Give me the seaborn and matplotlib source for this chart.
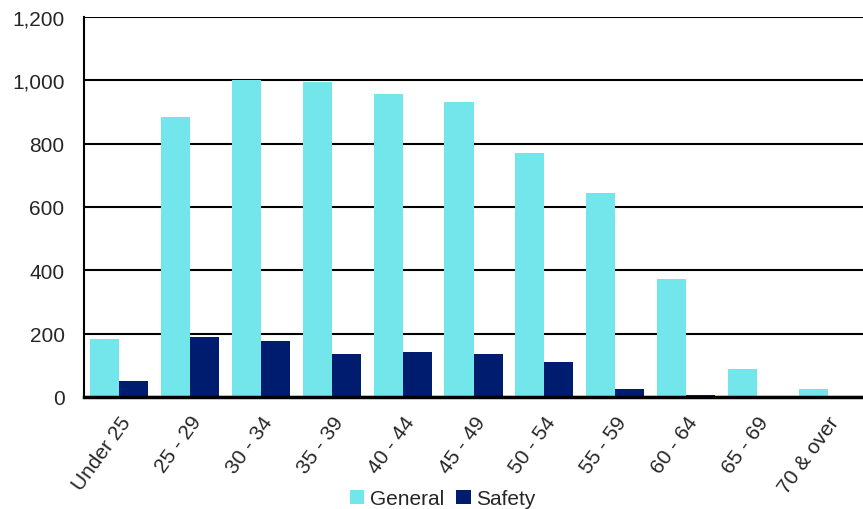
import matplotlib
matplotlib.use("Agg")
import matplotlib.pyplot as plt
import seaborn as sns
import pandas as pd

age_groups = ["Under 25", "25 - 29", "30 - 34", "35 - 39", "40 - 44", "45 - 49",
              "50 - 54", "55 - 59", "60 - 64", "65 - 69", "70 & over"]
general = [182, 883, 1002, 995, 956, 931, 770, 643, 374, 90, 24]
safety = [50, 189, 177, 137, 141, 137, 109, 24, 7, 1, 0]
series_names = ["General", "Safety"]
y_ticks = [0, 200, 400, 600, 800, 1000, 1200]

df = pd.DataFrame({
    "Age": age_groups * 2,
    "Count": general + safety,
    "Series": [series_names[0]] * len(age_groups) + [series_names[1]] * len(age_groups),
})

sns.set_style("white")
plt.rcParams["font.family"] = ["Liberation Sans", "DejaVu Sans"]

fig = plt.figure(figsize=(8.63, 5.1), dpi=100)
ax = fig.add_axes([84 / 863, 1 - 398 / 510, 1 - 84 / 863, (398 - 18) / 510])

palette = {"General": "#73E6EB", "Safety": "#001C6E"}
sns.barplot(data=df, x="Age", y="Count", hue="Series", palette=palette,
            width=0.82, saturation=1, ax=ax, zorder=3, linewidth=0)

ax.set_ylim(0, 1200)
ax.set_xlim(-0.5, len(age_groups) - 0.5)
ax.set_yticks(y_ticks)
ax.set_yticklabels([f"{v:,}" for v in y_ticks], fontsize=15)
ax.yaxis.grid(True, color="black", linewidth=1.5, zorder=0)
ax.xaxis.grid(False)
ax.set_xlabel("")
ax.set_ylabel("")
ax.tick_params(axis="y", length=0, pad=14)
ax.tick_params(axis="x", length=0, pad=11)
ax.set_xticks(range(len(age_groups)))
ax.set_xticklabels(age_groups, rotation=54, ha="right", rotation_mode="anchor",
                   fontsize=15)

for side in ["top", "right"]:
    ax.spines[side].set_visible(False)
ax.spines["left"].set_color("black")
ax.spines["left"].set_linewidth(1.5)
ax.spines["bottom"].set_color("black")
ax.spines["bottom"].set_linewidth(2.5)
ax.spines["bottom"].set_zorder(5)

handles, labels = ax.get_legend_handles_labels()
ax.legend_.remove()
fig.legend(handles, labels, loc="lower center", bbox_to_anchor=(0.513, -0.035),
           ncol=2, frameon=False, fontsize=15, handlelength=0.7,
           handleheight=0.7, handletextpad=0.25, columnspacing=0.6)

fig.savefig("out.png", dpi=100)
